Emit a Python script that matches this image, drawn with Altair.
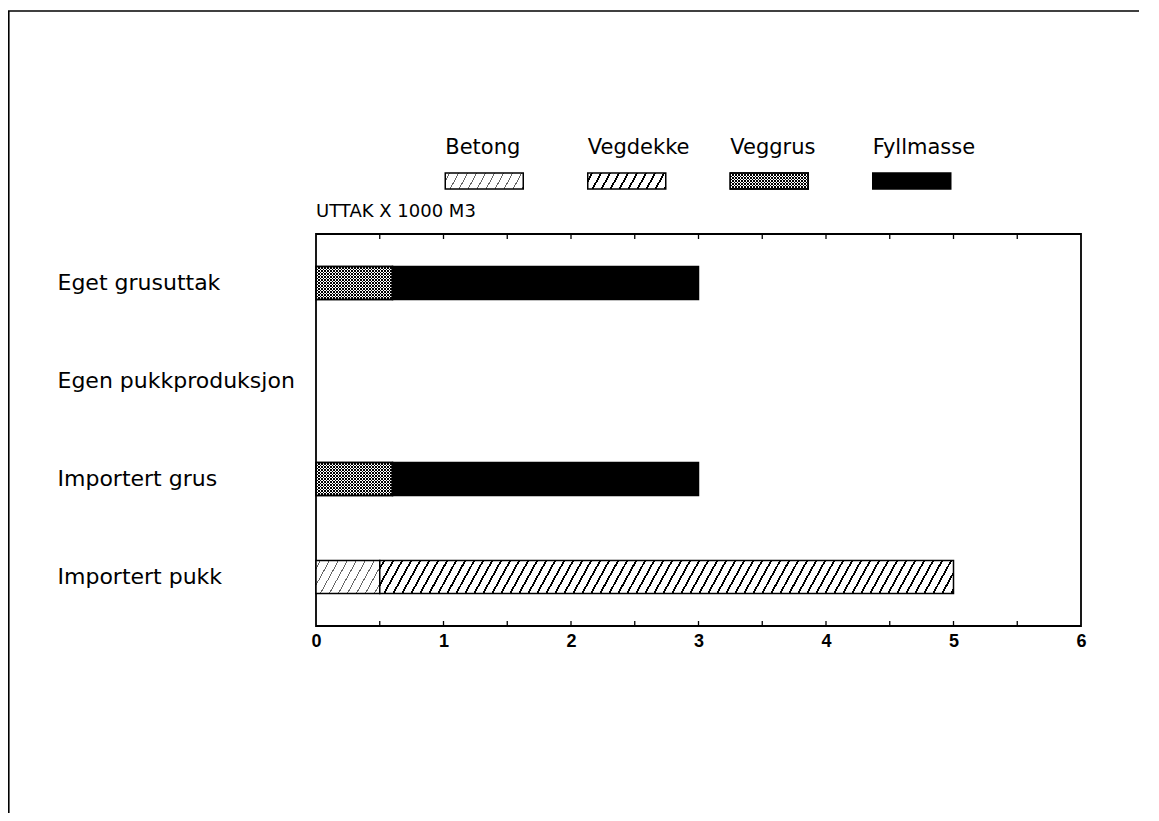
import altair as alt
import pandas as pd

# ---------------- data ----------------
categories = ["Eget grusuttak", "Egen pukkproduksjon", "Importert grus", "Importert pukk"]
series = ["Betong", "Vegdekke", "Veggrus", "Fyllmasse"]
betong = [0, 0, 0, 0.5]
vegdekke = [0, 0, 0, 4.5]
veggrus = [0.6, 0, 0.6, 0]
fyllmasse = [2.4, 0, 2.4, 0]
x_labels = [0, 1, 2, 3, 4, 5, 6]
minor_ticks = [0.5, 1.0, 1.5, 2.0, 2.5, 3.0, 3.5, 4.0, 4.5, 5.0, 5.5]
title_text = "UTTAK X 1000 M3"

rows = []
for s_i, (s, vals) in enumerate(zip(series, [betong, vegdekke, veggrus, fyllmasse])):
    for c, v in zip(categories, vals):
        rows.append(dict(category=c, series=s, order=s_i, value=v))
df = pd.DataFrame(rows)

# ---------------- layout / styles ----------------
W, H = 765, 392
XMAX = 6
PX = W / XMAX
BAR_H = 33
SW_W, SW_H = 78, 16


def stripes(w, h, k, pitch, lw, color, bg, mirror=False):
    r = k * h / w
    a = (1 + r) / (1 + r * r)
    span = w + k * h
    stops = []

    def add(t, col):
        t = min(max(t, 0.0), 1.0)
        stops.append(alt.GradientStop(offset=round(t, 5), color=col))

    add(0, bg)
    c = pitch / 2
    while c - lw / 2 < span:
        t0 = (c - lw / 2) / span
        t1 = (c + lw / 2) / span
        add(t0, bg)
        add(t0, color)
        add(t1, color)
        add(t1, bg)
        c += pitch
    add(1, bg)
    if mirror:
        x1, y1, x2, y2 = 0, 1, a, 1 - a * r
    else:
        x1, y1, x2, y2 = 0, 0, a, a * r
    return alt.LinearGradient(gradient="linear", stops=stops, x1=x1, y1=y1, x2=x2, y2=y2)


def fills(w, h):
    return {
        "Betong": [stripes(w, h, 0.55, 9, 1.1, "#666666", "white")],
        "Vegdekke": [stripes(w, h, 0.55, 9, 2.0, "black", "white")],
        "Veggrus": [stripes(w, h, 1.0, 3, 1.1, "black", "white"),
                    stripes(w, h, 1.0, 3, 1.1, "black", "rgba(255,255,255,0)", mirror=True)],
        "Fyllmasse": ["black"],
    }


series_vals = dict(zip(series, [betong, vegdekke, veggrus, fyllmasse]))

x_axis = alt.Axis(title=None, domain=False, ticks=False, tickSize=0, grid=False,
                  values=x_labels, format="d", labelFont="Liberation Sans",
                  labelFontWeight="bold", labelFontSize=18, labelColor="black",
                  labelPadding=6, labelFlush=False)
y_axis = alt.Axis(title=None, domain=False, ticks=False, tickSize=0, grid=False,
                  labelAlign="left", labelPadding=259, labelFont="DejaVu Sans",
                  labelFontSize=22, labelColor="black", labelLimit=400)
x_scale = alt.Scale(domain=[0, XMAX], nice=False, zero=True)
y_scale = alt.Scale(domain=categories, paddingInner=0.1, paddingOuter=0.05)

X = alt.X("x0:Q", scale=x_scale, axis=x_axis)
X2 = alt.X2("x1:Q")
Y = alt.Y("category:N", sort=categories, scale=y_scale, axis=y_axis)

base = alt.Chart(df).transform_stack(
    stack="value", groupby=["category"], as_=["x0", "x1"],
    sort=[alt.SortField("order", order="ascending")]
).transform_filter("datum.value > 0")

bar_layers = []
for s in series:
    wpx = max(series_vals[s]) * PX
    fl = fills(wpx, BAR_H)[s]
    for i, f in enumerate(fl):
        bar_layers.append(
            base.transform_filter(alt.datum.series == s)
            .mark_bar(size=BAR_H, fill=f, stroke="black", strokeWidth=1.5)
            .encode(x=X, x2=X2, y=Y)
        )

tick_df = pd.DataFrame({"t": minor_ticks})
TX = alt.X("t:Q", scale=x_scale, axis=x_axis)
ticks_bottom = alt.Chart(tick_df).mark_rule(color="black", strokeWidth=1.3).encode(
    x=TX, y=alt.value(H - 5), y2=alt.value(H))
ticks_top = alt.Chart(tick_df).mark_rule(color="black", strokeWidth=1.3).encode(
    x=TX, y=alt.value(0), y2=alt.value(5))

dummy = pd.DataFrame({"a": [0]})
title_mark = alt.Chart(dummy).mark_text(
    align="left", baseline="alphabetic", font="DejaVu Sans", fontSize=18, color="black"
).encode(x=alt.value(0), y=alt.value(-17), text=alt.value(title_text))

main = alt.layer(*bar_layers, ticks_bottom, ticks_top, title_mark)

# ---------------- legend ----------------
leg_df = pd.DataFrame({"series": series})
LX = alt.X("series:N", sort=series,
           scale=alt.Scale(domain=series, range=[97, 667], paddingInner=0, paddingOuter=0),
           axis=None)
leg_layers = []
for s in series:
    for f in fills(SW_W, SW_H)[s]:
        leg_layers.append(
            alt.Chart(leg_df).transform_filter(alt.datum.series == s)
            .mark_bar(size=SW_W, fill=f, stroke="black", strokeWidth=1.5)
            .encode(x=LX, y=alt.value(-61), y2=alt.value(-45))
        )
leg_text = alt.Chart(leg_df).mark_text(
    align="left", baseline="alphabetic", dx=-39, font="DejaVu Sans", fontSize=21, color="black"
).encode(x=LX, y=alt.value(-80), text="series:N")
legend = alt.layer(*leg_layers, leg_text)

# page frame (top and left edges of the scanned sheet)
frame_top = alt.Chart(dummy).mark_rule(color="black", strokeWidth=1.6).encode(
    x=alt.value(-308), x2=alt.value(W + 58), y=alt.value(-223))
frame_left = alt.Chart(dummy).mark_rule(color="black", strokeWidth=1.6).encode(
    x=alt.value(-307.2), y=alt.value(-223), y2=alt.value(H + 190))

chart = alt.layer(main, legend, frame_top, frame_left).resolve_scale(x="independent").properties(
    width=W, height=H,
    padding={"left": 308, "top": 226, "right": 62, "bottom": 187},
    autosize=alt.AutoSizeParams(type="none"),
    background="white",
).configure_view(stroke="black", strokeWidth=1.8)

chart.save("out.html", embed_options={"renderer": "svg", "actions": False})
